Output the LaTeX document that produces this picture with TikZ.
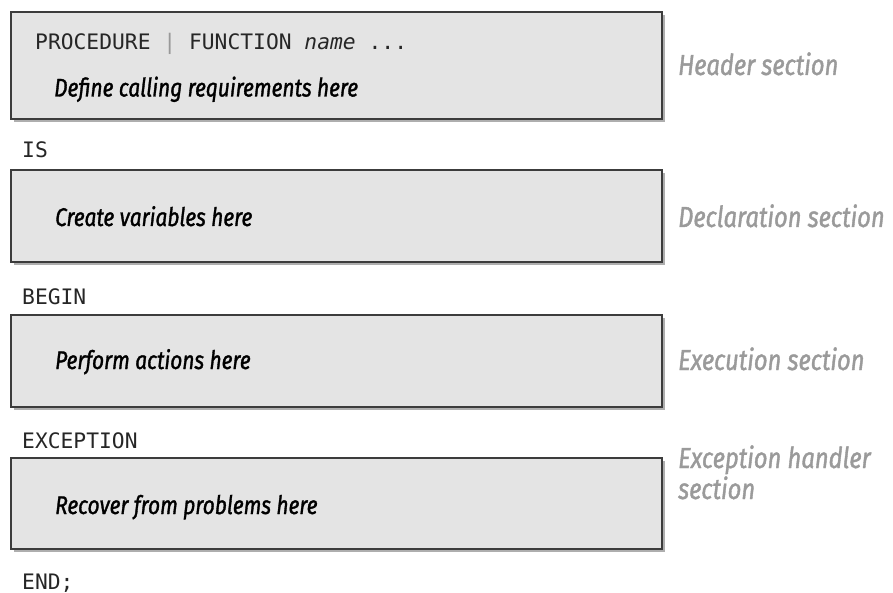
\documentclass[tikz,border=0pt]{standalone}
\usepackage{fontspec}
\setmainfont{Fira Sans}
\newfontfamily\lblfont[FakeStretch=0.82,FakeBold=1.3]{Fira Sans}
\newfontfamily\codefont{DejaVu Sans Mono}
\usetikzlibrary{shadows}
\definecolor{boxfill}{HTML}{E4E4E4}
\definecolor{boxline}{HTML}{3C3C3C}
\definecolor{sidegray}{HTML}{9A9A9A}
\begin{document}
\begin{tikzpicture}[x=1pt,y=-1pt,
  secbox/.style={draw=boxline,line width=1.8pt,fill=boxfill,inner sep=0pt,
     minimum width=651pt,
     drop shadow={shadow xshift=3pt,shadow yshift=-3pt,fill=black!45,opacity=0.7}},
  code/.style={anchor=base west,inner sep=0pt,font=\codefont\fontsize{21.3}{24}\selectfont,text=black!85},
  inner/.style={anchor=base west,inner sep=0pt,font=\lblfont\itshape\fontsize{25.5}{28}\selectfont,text=black},
  side/.style={anchor=base west,inner sep=0pt,align=left,font=\lblfont\itshape\fontsize{29}{31}\selectfont,text=sidegray}]
\useasboundingbox (0,0) rectangle (893,593);
% boxes
\node[secbox,minimum height=107pt] (hdr) at (336.5,65.5) {};
\node[secbox,minimum height=92pt] (decl) at (336.5,216) {};
\node[secbox,minimum height=92pt] (exec) at (336.5,361) {};
\node[secbox,minimum height=91pt] (exc) at (336.5,503.5) {};
% code keywords
\node[code] (proc) at (35,50) {PROCEDURE {\color{black!40}|} FUNCTION \textit{name} ...};
\node[code] (is) at (22,158) {IS};
\node[code] (begin) at (22,304) {BEGIN};
\node[code] (exception) at (22,448) {EXCEPTION};
\node[code] (end) at (22,589) {END;};
% inner texts
\node[inner] (t1) at (54,96.5) {Define calling requirements here};
\node[inner] (t2) at (55,226) {Create variables here};
\node[inner] (t3) at (55,369) {Perform actions here};
\node[inner] (t4) at (55,514) {Recover from problems here};
% side labels
\node[side] (s1) at (678,75) {Header section};
\node[side] (s2) at (678,227) {Declaration section};
\node[side] (s3) at (678,370) {Execution section};
\node[side] (s4) at (678,499) {Exception handler\\section};
\end{tikzpicture}
\end{document}
